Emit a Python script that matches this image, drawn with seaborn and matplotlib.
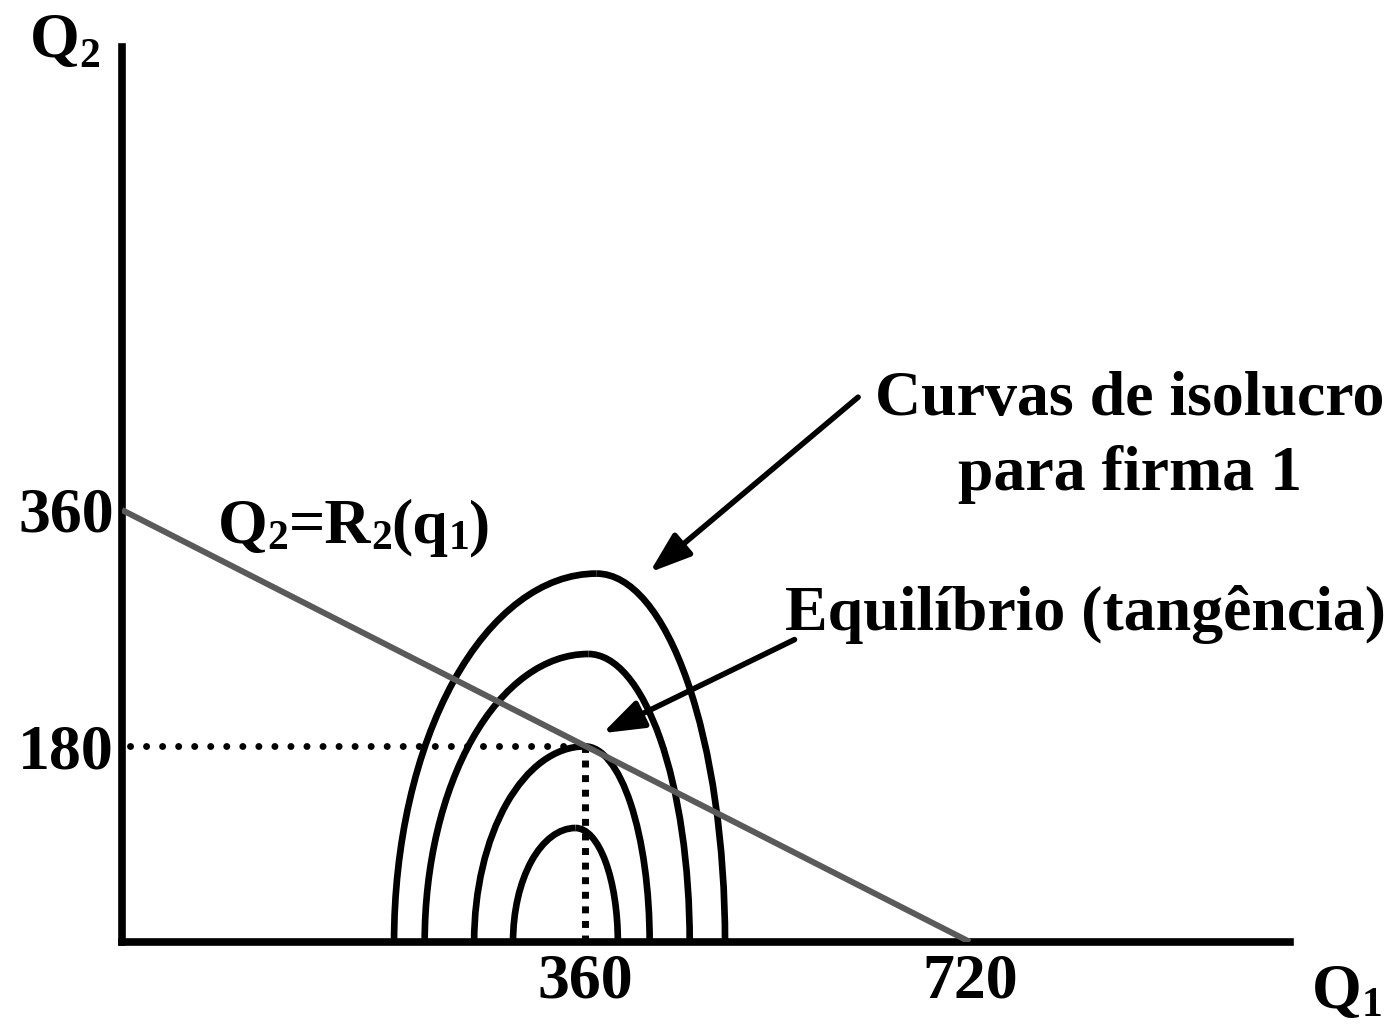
import matplotlib
matplotlib.use("Agg")
import matplotlib.pyplot as plt
from matplotlib.patches import Arc
from matplotlib.transforms import IdentityTransform
import seaborn as sns

# reaction curve of firm 2: Q2 = R2(q1)
react_q1 = [0, 720]
react_q2 = [360, 0]

# tangency point as drawn (labelled 360 / 180)
eq_q1 = 393
eq_q2 = 163
x_tick_pos = [eq_q1, 720]
x_tick_lab = ["360", "720"]
y_tick_pos = [eq_q2, 360]
y_tick_lab = ["180", "360"]

# isoprofit curves for firm 1 (base left, peak x, base right, peak height)
iso_left = [231, 257, 299, 332]
iso_peak_x = [403, 396, 393, 385]
iso_right = [512, 482, 448, 421]
iso_peak_y = [307, 240, 163, 95]

sns.set_style("white")
plt.rcParams["font.family"] = ["Liberation Serif", "DejaVu Serif"]
plt.rcParams["font.weight"] = "bold"
plt.rcParams["text.color"] = "black"
plt.rcParams["xtick.color"] = "black"
plt.rcParams["ytick.color"] = "black"

W, H = 1400, 1029
FS = 46
fig = plt.figure(figsize=(W / 100, H / 100), dpi=100)
ax = fig.add_axes([122 / W, (H - 942) / H, (1290 - 122) / W, (942 - 47) / H])
ax.set_xlim(0, 991.7)
ax.set_ylim(0, 745.8)

for s in ["top", "right"]:
    ax.spines[s].set_visible(False)
for s in ["left", "bottom"]:
    ax.spines[s].set_linewidth(5.5)
    ax.spines[s].set_color("black")

# isoprofit arches
for l, px, r, py in zip(iso_left, iso_peak_x, iso_right, iso_peak_y):
    ax.add_patch(Arc((px, 0), 2 * (px - l), 2 * py, theta1=90, theta2=180,
                     lw=4.8, color="black", zorder=3))
    ax.add_patch(Arc((px, 0), 2 * (r - px), 2 * py, theta1=0, theta2=90,
                     lw=4.8, color="black", zorder=3))

# reaction line
sns.lineplot(x=react_q1, y=react_q2, ax=ax, color="#5a5a5a", linewidth=4.3,
             zorder=4, solid_capstyle="butt")

# dotted guides to the equilibrium
ax.plot([7, eq_q1], [eq_q2, eq_q2], color="black", lw=5,
        linestyle=(0, (0.01, 2.3)), dash_capstyle="round", zorder=2)
ax.plot([eq_q1, eq_q1], [0, eq_q2], color="black", lw=5,
        linestyle=(0, (1, 1.1)), dash_capstyle="butt", zorder=2)

ax.set_xticks(x_tick_pos, x_tick_lab)
ax.set_yticks(y_tick_pos, y_tick_lab)
ax.tick_params(axis="both", length=0, labelsize=FS, labelcolor="black")
ax.tick_params(axis="x", pad=8)
ax.tick_params(axis="y", pad=6)
for t in ax.get_xticklabels() + ax.get_yticklabels():
    t.set_fontweight("bold")

# plain labels
ax.text(856, 439, "Curvas de isolucro", fontsize=FS, fontweight="bold",
        ha="center", va="baseline", clip_on=False)
ax.text(856, 377, "para firma 1", fontsize=FS, fontweight="bold",
        ha="center", va="baseline", clip_on=False)
ax.text(818, 260, "Equilíbrio (tangência)", fontsize=FS, fontweight="bold",
        ha="center", va="baseline", clip_on=False)

# labels with subscripts, written piece by piece (pixel coords from top-left)
renderer = fig.canvas.get_renderer()


def sub_label(x, y, parts, drop):
    cx, base = x, H - y
    for s, is_sub in parts:
        fs = FS * 0.65 if is_sub else FS
        yy = base - drop if is_sub else base
        t = fig.text(cx, yy, s, transform=IdentityTransform(), fontsize=fs,
                     fontweight="bold", ha="left", va="baseline")
        cx = t.get_window_extent(renderer).x1


sub_label(30, 57, [("Q", False), ("2", True)], 10)
sub_label(1312, 1008, [("Q", False), ("1", True)], 8)
sub_label(218, 543, [("Q", False), ("2", True), ("=R", False), ("2", True),
                     ("(q", False), ("1", True), (")", False)], 6)

# arrows
arrow = dict(arrowstyle="-|>,head_length=1.0,head_width=0.35", lw=4,
             color="black", shrinkA=0, shrinkB=0, mutation_scale=25)
ax.annotate("", xy=(448, 308), xytext=(625, 454), arrowprops=arrow)
ax.annotate("", xy=(408, 174), xytext=(571, 252), arrowprops=arrow)

fig.savefig("out.png", dpi=100)
